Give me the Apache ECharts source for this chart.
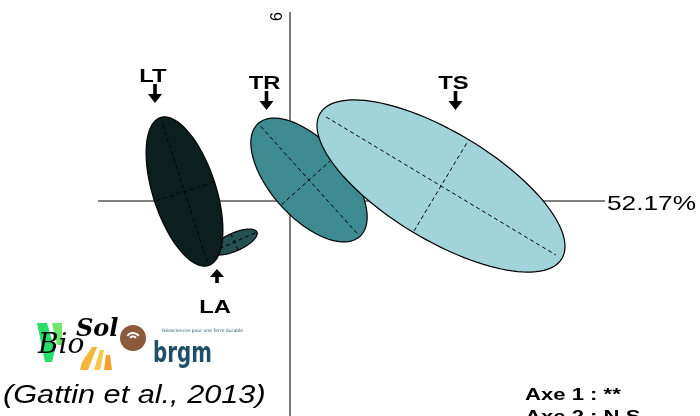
<!DOCTYPE html>
<html>
<head>
<meta charset="utf-8">
<script src="https://cdn.jsdelivr.net/npm/echarts@6/dist/echarts.min.js"></script>
<style>
html,body{margin:0;padding:0;background:#fff;}
#chart{width:700px;height:416px;}
</style>
</head>
<body>
<div id="chart"></div>
<script>
// ---- data (PCA factorial plane, units of the axes) ----
const groups = ['LA', 'LT', 'TR', 'TS'];
const centerX = [-1.11, -2.11, 0.38, 3.02];
const centerY = [-0.82, 0.19, 0.42, 0.30];
const semiMajor = [0.49, 1.555, 1.52, 2.82];
const semiMinor = [0.18, 0.63, 0.76, 1.08];
const angleDeg = [24, 108, -48, -31];

const labelNames = ['LT', 'TR', 'TS', 'LA'];
const labelX = [-2.70, -0.47, 3.31, -1.46];
const labelY = [1.96, 1.82, 1.82, -1.36];
const labelDir = ['down', 'down', 'down', 'up'];

const axis1Extent = [-3.84, 6.30];
const axis2Extent = [-4.30, 3.78];
const axis1Label = '52.17%';
const axis2Label = '6';
const notes = ['Axe 1 : **', 'Axe 2 : N.S'];
const citation = '(Gattin et al., 2013)';

// ---- styles ----
const fillColors = {LA: '#24504f', LT: '#0c1e1e', TR: '#3d8b90', TS: '#a1d4d8'};
const stretch = 1.25;

const chart = echarts.init(document.getElementById('chart'), null, {renderer: 'canvas'});

const ellipseData = groups.map((g, i) => [centerX[i], centerY[i], semiMajor[i], semiMinor[i], angleDeg[i]]);
const labelData = labelNames.map((n, i) => [labelX[i], labelY[i], i]);

function renderEllipse(params, api) {
  const cx = api.value(0), cy = api.value(1), a = api.value(2), b = api.value(3);
  const th = api.value(4) * Math.PI / 180;
  const c = Math.cos(th), s = Math.sin(th);
  const pt = (u, v) => api.coord([cx + u * c - v * s, cy + u * s + v * c]);
  const pts = [];
  for (let k = 0; k < 120; k++) {
    const t = k / 120 * Math.PI * 2;
    pts.push(pt(a * Math.cos(t), b * Math.sin(t)));
  }
  const name = groups[params.dataIndex];
  const m1 = pt(-a * 0.95, 0), m2 = pt(a * 0.95, 0);
  const n1 = pt(0, -b * 0.97), n2 = pt(0, b * 0.97);
  const dash = {stroke: '#000', lineWidth: 1, lineDash: [4, 3], fill: null};
  return {
    type: 'group',
    children: [
      {type: 'polygon', shape: {points: pts, smooth: 0}, style: {fill: fillColors[name], stroke: '#000', lineWidth: 1.2}},
      {type: 'line', shape: {x1: m1[0], y1: m1[1], x2: m2[0], y2: m2[1]}, style: dash},
      {type: 'line', shape: {x1: n1[0], y1: n1[1], x2: n2[0], y2: n2[1]}, style: dash}
    ]
  };
}

function renderLabel(params, api) {
  const i = api.value(2);
  const p = api.coord([api.value(0), api.value(1)]);
  const dir = labelDir[i];
  const tx = p[0], ty = p[1];
  let arrow, textY;
  if (dir === 'down') {
    arrow = [[tx, ty], [tx - 7, ty - 9], [tx - 1.8, ty - 9], [tx - 1.8, ty - 19], [tx + 1.8, ty - 19], [tx + 1.8, ty - 9], [tx + 7, ty - 9]];
    textY = ty - 26;
  } else {
    arrow = [[tx, ty], [tx - 7, ty + 8], [tx - 1.8, ty + 8], [tx - 1.8, ty + 14], [tx + 1.8, ty + 14], [tx + 1.8, ty + 8], [tx + 7, ty + 8]];
    textY = ty + 39;
  }
  return {
    type: 'group',
    children: [
      {type: 'polygon', shape: {points: arrow}, style: {fill: '#000'}},
      {type: 'text', x: tx - 2, y: textY, scaleX: stretch, style: {text: labelNames[i], fill: '#000', font: 'bold 19px "Liberation Sans", Arial, sans-serif', align: 'center', verticalAlign: 'middle'}}
    ]
  };
}

const option = {
  animation: false,
  backgroundColor: '#fff',
  grid: {left: 0, right: 0, top: 0, bottom: 0},
  xAxis: {type: 'value', min: -5.8, max: 8.2, show: false},
  yAxis: {type: 'value', min: -4.3, max: 4.02, show: false},
  series: [
    {type: 'line', data: [[axis1Extent[0], 0], [axis1Extent[1], 0]], symbol: 'none', silent: true, z: 1,
     lineStyle: {color: '#000', width: 1}},
    {type: 'line', data: [[0, axis2Extent[0]], [0, axis2Extent[1]]], symbol: 'none', silent: true, z: 1,
     lineStyle: {color: '#333', width: 1.3}},
    {type: 'custom', renderItem: renderEllipse, data: ellipseData, z: 3, silent: true, clip: false},
    {type: 'custom', renderItem: renderLabel, data: labelData, z: 4, silent: true, clip: false}
  ],
  graphic: [
    {type: 'text', x: 607, y: 204, scaleX: stretch, style: {text: axis1Label, font: '21px "Liberation Sans", Arial, sans-serif', fill: '#000', verticalAlign: 'middle'}},
    {type: 'text', x: 270, y: 12, rotation: Math.PI / 2, style: {text: axis2Label, font: '16px "Liberation Sans", Arial, sans-serif', fill: '#000', align: 'right', verticalAlign: 'top'}},
    {type: 'text', x: 525, y: 384, scaleX: 1.3, style: {text: notes.join('\n'), font: 'bold 17px "Liberation Sans", Arial, sans-serif', lineHeight: 22, fill: '#000', verticalAlign: 'top'}},
    {type: 'text', x: 3, y: 383, scaleX: 1.18, style: {text: citation, font: 'italic 26px "Liberation Sans", Arial, sans-serif', fill: '#000', verticalAlign: 'top'}},
    // BioSol logo (approximation)
    {type: 'polygon', shape: {points: [[37, 323], [47, 323], [55, 350], [52, 362], [45, 362]]}, style: {fill: '#27e06a'}},
    {type: 'polygon', shape: {points: [[52, 323], [62, 323], [62, 345], [57, 345]]}, style: {fill: '#6fe86a'}},
    {type: 'polygon', shape: {points: [[82, 362], [92, 347], [97, 347], [88, 370], [80, 370]]}, style: {fill: '#f6b63a'}},
    {type: 'polygon', shape: {points: [[94, 370], [100, 350], [104, 350], [100, 370]]}, style: {fill: '#f7c94a'}},
    {type: 'polygon', shape: {points: [[104, 370], [106, 355], [110, 355], [112, 370]]}, style: {fill: '#f3a02a'}},
    {type: 'text', x: 38, y: 332, style: {text: 'Bio', font: 'italic 28px "DejaVu Serif", serif', fill: '#000'}},
    {type: 'text', x: 76, y: 318, style: {text: 'Sol', font: 'italic bold 24px "DejaVu Serif", serif', fill: '#000'}},
    // brgm logo (approximation)
    {type: 'circle', shape: {cx: 133, cy: 338, r: 13}, style: {fill: '#8b5a3a'}},
    {type: 'arc', shape: {cx: 133, cy: 340, r: 7, startAngle: Math.PI * 1.2, endAngle: Math.PI * 1.8}, style: {stroke: '#fff', lineWidth: 2, fill: null}},
    {type: 'arc', shape: {cx: 133, cy: 340, r: 3.5, startAngle: Math.PI * 1.2, endAngle: Math.PI * 1.8}, style: {stroke: '#fff', lineWidth: 2, fill: null}},
    {type: 'text', x: 153, y: 340, scaleX: 0.76, style: {text: 'brgm', font: 'bold 29px "DejaVu Sans Condensed", "DejaVu Sans", sans-serif', fill: '#1f4f69'}},
    {type: 'text', x: 162, y: 328, style: {text: 'Géosciences pour une Terre durable', font: '4.5px "DejaVu Sans", sans-serif', fill: '#2a5a78'}}
  ]
};
chart.setOption(option);
</script>
</body>
</html>
